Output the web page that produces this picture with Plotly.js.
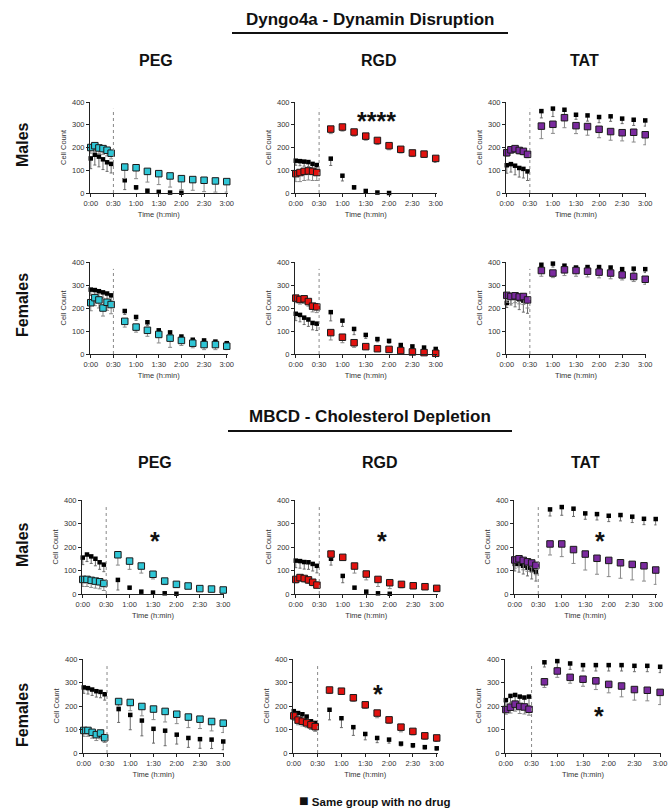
<!DOCTYPE html>
<html>
<head>
<meta charset="utf-8">
<script src="https://cdn.plot.ly/plotly-3.0.1.min.js"></script>
<style>html,body{margin:0;padding:0;background:#fff;}#chart{width:671px;height:812px;}</style>
</head>
<body>
<div id="chart"></div>
<script>
// ---- time points (minutes) ----
const times = [0, 5.4, 10.8, 16.2, 21.6, 27, 45, 60, 75, 90, 105, 120, 135, 150, 165, 180];
const tickVals = [0, 30, 60, 90, 120, 150, 180];
const tickText = ["0:00", "0:30", "1:00", "1:30", "2:00", "2:30", "3:00"];
const yTicks = [0, 100, 200, 300, 400];

// ---- Dyngo4a - Dynamin Disruption ----
const dyPegM_drug = [200,208,198,195,188,175, 114,111,95,85,75,63,59,56,53,50];
const dyPegM_drugErr = [25,25,25,25,25,25, 50,48,47,48,49,48,47,50,49,46];
const dyPegM_ctrl = [152,168,160,148,135,128, 56,25,10,5,2,1,null,null,null,null];
const dyPegM_ctrlErr = [45,45,45,45,40,40, 41,10,5,3,2,1,0,0,0,0];

const dyRgdM_drug = [85,90,95,97,95,90, 281,290,268,250,231,208,192,176,171,152];
const dyRgdM_drugErr = [35,40,40,40,40,35, 20,18,18,18,18,18,16,16,15,18];
const dyRgdM_ctrl = [142,140,138,136,128,123, 151,76,25,9,2,0,null,null,null,null];
const dyRgdM_ctrlErr = [20,20,20,20,20,20, 30,23,8,9,2,0,0,0,0,0];

const dyTatM_drug = [177,190,195,187,183,170, 294,302,331,296,292,280,270,265,267,256];
const dyTatM_drugErr = [15,15,15,15,15,15, 55,40,44,35,38,37,38,36,43,44];
const dyTatM_ctrl = [122,127,120,110,106,95, 360,371,366,344,341,334,337,327,322,319];
const dyTatM_ctrlErr = [35,35,40,40,40,40, 30,35,25,20,25,25,22,22,25,25];

const dyPegF_drug = [223,245,235,200,225,215, 142,117,103,85,69,59,47,41,41,34];
const dyPegF_drugErr = [35,35,35,35,35,40, 25,22,26,37,40,22,20,22,22,15];
const dyPegF_ctrl = [280,278,273,268,263,255, 187,161,138,103,94,76,62,59,54,47];
const dyPegF_ctrlErr = [25,25,25,25,25,25, 15,15,15,15,15,15,12,12,12,12];

const dyRgdF_drug = [243,237,240,228,208,205, 93,73,49,32,23,20,15,9,6,3];
const dyRgdF_drugErr = [20,20,20,20,25,25, 32,24,20,10,8,8,8,6,5,3];
const dyRgdF_ctrl = [175,170,158,150,135,132, 182,145,109,83,65,57,39,33,28,22];
const dyRgdF_ctrlErr = [30,30,30,30,30,30, 38,25,25,15,12,10,10,10,8,8];

const dyTatF_drug = [255,250,253,248,250,235, 363,352,366,363,360,356,352,344,337,325];
const dyTatF_drugErr = [30,30,30,30,35,35, 25,20,25,25,25,25,25,22,22,22];
const dyTatF_ctrl = [222,248,245,238,232,232, 388,393,384,376,378,378,376,369,371,369];
const dyTatF_ctrlErr = [20,35,40,45,50,55, 15,15,15,15,15,15,15,15,15,15];

// ---- MBCD - Cholesterol Depletion ----
const mbPegM_drug = [62,62,58,55,52,45, 167,140,119,84,55,41,34,23,21,17];
const mbPegM_drugErr = [30,30,30,30,30,30, 44,35,30,20,15,12,10,8,8,6];
const mbPegM_ctrl = [155,168,160,150,135,125, 60,27,10,6,3,1,null,null,null,null];
const mbPegM_ctrlErr = [30,30,30,30,30,30, 43,8,5,4,2,1,0,0,0,0];

const mbRgdM_drug = [62,70,66,60,50,38, 170,156,119,85,62,48,41,35,31,24];
const mbRgdM_drugErr = [15,15,15,15,15,10, 15,12,30,25,30,25,15,12,10,8];
const mbRgdM_ctrl = [142,140,136,135,128,120, 150,77,27,10,3,1,null,null,null,null];
const mbRgdM_ctrlErr = [30,30,30,30,30,30, 27,29,5,5,2,1,0,0,0,0];

const mbTatM_drug = [145,150,143,137,132,122, 213,213,189,170,152,143,133,126,120,102];
const mbTatM_drugErr = [35,35,40,40,40,40, 47,54,59,68,68,69,66,66,65,61];
const mbTatM_ctrl = [128,128,120,112,104,95, 360,370,363,343,340,333,336,329,320,319];
const mbTatM_ctrlErr = [30,35,35,35,40,40, 28,35,33,25,25,25,25,25,25,25];

const mbPegF_drug = [96,96,88,78,85,65, 219,215,198,187,177,165,153,144,134,127];
const mbPegF_drugErr = [25,25,25,25,25,20, 20,35,40,45,45,40,45,40,40,40];
const mbPegF_ctrl = [279,276,270,263,260,250, 187,162,138,103,95,78,64,59,57,49];
const mbPegF_ctrlErr = [25,25,25,25,25,25, 57,63,65,61,64,40,40,39,38,35];

const mbRgdF_drug = [158,140,135,128,120,112, 268,263,235,205,170,141,110,92,73,64];
const mbRgdF_drugErr = [20,20,20,20,20,20, 15,12,15,15,20,15,20,15,15,15];
const mbRgdF_ctrl = [178,170,165,155,135,128, 184,148,110,81,64,57,40,33,25,20];
const mbRgdF_ctrlErr = [30,30,30,30,30,30, 43,40,35,25,20,15,10,10,8,8];

const mbTatF_drug = [185,195,208,198,196,186, 303,349,322,314,307,292,285,270,267,258];
const mbTatF_drugErr = [20,25,30,30,30,25, 24,27,25,30,37,36,46,45,45,52];
const mbTatF_ctrl = [225,243,247,240,236,240, 386,391,381,374,374,374,374,371,371,367];
const mbTatF_ctrlErr = [30,30,30,35,35,40, 20,27,25,25,25,25,25,25,25,25];

const colPEG = "#2fc6d6", colRGD = "#e3120f", colTAT = "#7a2a9e";
const FONT = "Liberation Sans, Arial, sans-serif";

// panels: [drug, drugErr, ctrl, ctrlErr, color, xDomainPx, yDomainPx, stars]
const W = 671, H = 812;
const panels = [
  [dyPegM_drug, dyPegM_drugErr, dyPegM_ctrl, dyPegM_ctrlErr, colPEG, [90,227.5], [102,193], null],
  [dyRgdM_drug, dyRgdM_drugErr, dyRgdM_ctrl, dyRgdM_ctrlErr, colRGD, [295,436.5], [102,193], ["****",104,341]],
  [dyTatM_drug, dyTatM_drugErr, dyTatM_ctrl, dyTatM_ctrlErr, colTAT, [506,646], [102,193], null],
  [dyPegF_drug, dyPegF_drugErr, dyPegF_ctrl, dyPegF_ctrlErr, colPEG, [90,227.5], [262,354], null],
  [dyRgdF_drug, dyRgdF_drugErr, dyRgdF_ctrl, dyRgdF_ctrlErr, colRGD, [295,436.5], [262,354], null],
  [dyTatF_drug, dyTatF_drugErr, dyTatF_ctrl, dyTatF_ctrlErr, colTAT, [506,646], [262,354], null],
  [mbPegM_drug, mbPegM_drugErr, mbPegM_ctrl, mbPegM_ctrlErr, colPEG, [82,224], [500,594], ["*",92.6,251]],
  [mbRgdM_drug, mbRgdM_drugErr, mbRgdM_ctrl, mbRgdM_ctrlErr, colRGD, [295,437.5], [500,594], ["*",109.6,251]],
  [mbTatM_drug, mbTatM_drugErr, mbTatM_ctrl, mbTatM_ctrlErr, colTAT, [514,656.5], [500,594], ["*",108.8,251]],
  [mbPegF_drug, mbPegF_drugErr, mbPegF_ctrl, mbPegF_ctrlErr, colPEG, [83,224], [659,753], null],
  [mbRgdF_drug, mbRgdF_drugErr, mbRgdF_ctrl, mbRgdF_ctrlErr, colRGD, [293,437.5], [659,753], ["*",105.6,276]],
  [mbTatF_drug, mbTatF_drugErr, mbTatF_ctrl, mbTatF_ctrlErr, colTAT, [505,661], [659,753], ["*",109,182]]
];

const data = [];
const layout = {
  width: W, height: H,
  margin: {l:0, r:0, t:0, b:0},
  paper_bgcolor: "#fff", plot_bgcolor: "rgba(0,0,0,0)",
  showlegend: false,
  font: {family: FONT, color: "#222"},
  shapes: [], annotations: []
};

function clampErr(vals, errs) {
  return errs.map((e, i) => vals[i] == null ? 0 : Math.min(e, vals[i]));
}

panels.forEach((p, i) => {
  const n = i + 1;
  const xa = n === 1 ? "x" : "x" + n, ya = n === 1 ? "y" : "y" + n;
  const xk = n === 1 ? "xaxis" : "xaxis" + n, yk = n === 1 ? "yaxis" : "yaxis" + n;
  const [drug, drugErr, ctrl, ctrlErr, color, xd, yd, star] = p;

  data.push({
    type: "scatter", mode: "markers", x: times, y: ctrl, xaxis: xa, yaxis: ya,
    name: "Same group with no drug", cliponaxis: false,
    marker: {symbol: "square", size: 4.5, color: "#000"},
    error_y: {type: "data", symmetric: false, array: times.map(() => 0),
              arrayminus: clampErr(ctrl, ctrlErr), color: "#6a6a6a", thickness: 1, width: 1.5}
  });
  data.push({
    type: "scatter", mode: "markers", x: times, y: drug, xaxis: xa, yaxis: ya,
    name: "Drug", cliponaxis: false,
    marker: {symbol: "square", size: 6.5, color: color, line: {color: "#1a1a1a", width: 1}},
    error_y: {type: "data", symmetric: false, array: times.map(() => 0),
              arrayminus: clampErr(drug, drugErr), color: "#8a8a8a", thickness: 1, width: 2}
  });

  layout[xk] = {
    domain: [xd[0] / W, xd[1] / W], anchor: ya, range: [-1, 181],
    tickmode: "array", tickvals: tickVals, ticktext: tickText, tickangle: 0,
    showline: true, linecolor: "#222", linewidth: 1, ticks: "outside", ticklen: 3, tickcolor: "#222",
    showgrid: false, zeroline: false, fixedrange: true,
    tickfont: {family: FONT, size: 7.5, color: "#333"},
    title: {text: "Time (h:min)", font: {family: FONT, size: 7.5, color: "#333"}, standoff: 4}
  };
  layout[yk] = {
    domain: [1 - yd[1] / H, 1 - yd[0] / H], anchor: xa, range: [0, 400],
    tickmode: "array", tickvals: yTicks,
    showline: true, linecolor: "#222", linewidth: 1, ticks: "outside", ticklen: 3, tickcolor: "#222",
    showgrid: false, zeroline: false, fixedrange: true,
    tickfont: {family: FONT, size: 7.5, color: "#333"},
    title: {text: "Cell Count", font: {family: FONT, size: 7.5, color: "#333"}, standoff: 4}
  };

  layout.shapes.push({type: "line", xref: xa, yref: ya, x0: 30, x1: 30, y0: 0, y1: 370,
                      line: {color: "#888", width: 1, dash: "dot"}});
  if (star) {
    layout.annotations.push({xref: xa, yref: ya, x: star[1], y: star[2], text: star[0], showarrow: false,
      yshift: -6, font: {family: FONT, size: 25, color: "#111", weight: "bold"}});
  }
});

// section titles with underline
function sectionTitle(text, yPx, x0, x1) {
  layout.annotations.push({xref: "paper", yref: "paper", x: 370 / W, y: 1 - yPx / H, text: "<b>" + text + "</b>",
    showarrow: false, xanchor: "center", yanchor: "middle", font: {family: FONT, size: 17, color: "#111"}});
  layout.shapes.push({type: "line", xref: "paper", yref: "paper", x0: x0 / W, x1: x1 / W,
    y0: 1 - (yPx + 14) / H, y1: 1 - (yPx + 14) / H, line: {color: "#111", width: 2}});
}
sectionTitle("Dyngo4a - Dynamin Disruption", 19, 232, 508);
sectionTitle("MBCD - Cholesterol Depletion", 417, 228, 512);

function label(text, xPx, yPx, angle, size) {
  layout.annotations.push({xref: "paper", yref: "paper", x: xPx / W, y: 1 - yPx / H, text: "<b>" + text + "</b>",
    showarrow: false, xanchor: "center", yanchor: "middle", textangle: angle || 0,
    font: {family: FONT, size: size || 16, color: "#111"}});
}
const colHeaders = ["PEG", "RGD", "TAT"];
[[156, 60], [379, 60], [584, 60]].forEach((c, i) => label(colHeaders[i], c[0], c[1]));
[[155, 462], [380, 462], [585, 462]].forEach((c, i) => label(colHeaders[i], c[0], c[1]));
label("Males", 22, 145, -90);
label("Females", 22, 305, -90);
label("Males", 22, 545, -90);
label("Females", 22, 715, -90);

// legend
layout.annotations.push({xref: "paper", yref: "paper", x: 375 / W, y: 1 - 800 / H,
  text: "<b><span style='font-size:16px'>■</span> Same group with no drug</b>", showarrow: false,
  xanchor: "center", yanchor: "middle",
  font: {family: FONT, size: 11.5, color: "#111"}});

Plotly.newPlot("chart", data, layout, {displayModeBar: false, staticPlot: true});
</script>
</body>
</html>
